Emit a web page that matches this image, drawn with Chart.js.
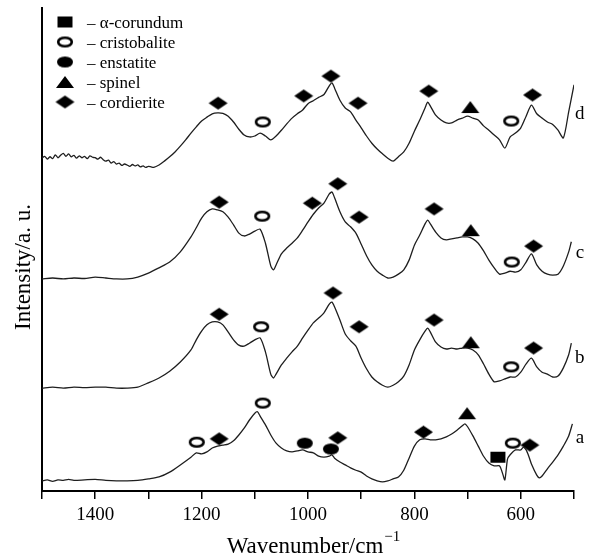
<!DOCTYPE html>
<html>
<head>
<meta charset="utf-8">
<script src="https://cdn.jsdelivr.net/npm/chart.js@4.4.1/dist/chart.umd.min.js"></script>
<style>
    html, body { margin: 0; padding: 0; background: #fff; }
</style>
</head>
<body>
<canvas id="ftirChart" width="592" height="560"></canvas>
<script>
// FTIR spectra, wavenumber in cm-1, intensity in a.u. (curves stacked as plotted)
const wnA = [1500, 1490, 1480, 1470, 1460, 1450, 1440, 1420, 1400, 1380, 1360, 1340, 1320, 1300, 1280, 1260, 1240, 1220, 1210, 1200,
    1190, 1180, 1170, 1160, 1150, 1140, 1130, 1120, 1110, 1100, 1095, 1090, 1080, 1070, 1060, 1050, 1040, 1030, 1020, 1010,
    1000, 990, 980, 970, 960, 955, 950, 940, 930, 920, 910, 900, 890, 880, 870, 860, 850, 840, 830, 820,
    810, 800, 790, 780, 770, 760, 750, 740, 730, 720, 710, 705, 700, 690, 680, 670, 660, 650, 640, 635,
    630, 625, 620, 610, 600, 595, 590, 585, 580, 570, 565, 560, 550, 540, 530, 520, 510, 503];
const intA = [2.1, 2.3, 2.0, 2.3, 2.2, 2.4, 2.2, 2.3, 2.4, 2.2, 2.1, 2.1, 2.2, 2.5, 2.9, 3.9, 5.4, 7.0, 7.9, 7.7,
    8.1, 8.9, 9.3, 9.5, 9.7, 10.4, 11.6, 13.0, 14.7, 16.1, 16.4, 15.5, 13.7, 11.6, 9.9, 8.9, 8.3, 8.1, 8.3, 8.5,
    8.1, 7.9, 7.2, 7.0, 7.2, 7.5, 6.8, 6.0, 5.4, 4.8, 4.3, 3.9, 3.1, 2.5, 2.1, 1.9, 2.1, 2.5, 2.9, 4.3,
    6.8, 9.3, 10.6, 10.8, 10.6, 10.6, 10.8, 11.2, 11.8, 12.6, 13.5, 13.9, 13.3, 11.4, 9.3, 7.2, 5.8, 5.2, 5.2, 3.9,
    2.3, 6.6, 7.5, 8.5, 8.5, 9.1, 8.5, 7.2, 5.6, 3.3, 2.7, 3.1, 4.6, 6.0, 7.5, 9.3, 11.4, 13.9];

const wnBC = [1500, 1480, 1460, 1440, 1420, 1400, 1380, 1360, 1340, 1320, 1300, 1280, 1260, 1240, 1220, 1210, 1200,
    1190, 1180, 1170, 1160, 1150, 1140, 1130, 1120, 1110, 1100, 1090, 1080, 1070, 1065, 1060,
    1050, 1040, 1030, 1020, 1010, 1000, 990, 980, 970, 960, 955, 950,
    940, 930, 920, 910, 900, 890, 880, 870, 860, 850, 840, 830, 820, 810, 800, 790, 780, 775,
    770, 760, 750, 740, 730, 720, 710, 700, 690, 680, 670, 660, 650, 640, 630, 620, 610, 600, 590, 580,
    570, 560, 550, 540, 530, 520, 510, 505];
const intB = [21.3, 21.5, 21.3, 21.5, 21.4, 21.5, 21.5, 21.3, 21.3, 21.5, 22.4, 23.4, 24.8, 26.7, 29.2, 31.3, 33.1,
    34.4, 35.0, 35.0, 34.4, 32.9, 31.3, 30.2, 30.0, 30.6, 31.3, 31.7, 28.8, 24.2, 23.4, 24.2,
    26.1, 27.5, 28.8, 30.0, 31.7, 33.3, 34.8, 35.8, 36.9, 38.7, 39.1, 38.1,
    35.4, 32.5, 31.1, 30.0, 27.5, 25.3, 23.6, 22.6, 21.9, 21.5, 21.9, 22.6, 23.8, 26.1, 29.2, 31.3, 33.1, 33.7,
    32.9, 30.8, 29.8, 29.4, 29.6, 29.4, 29.6, 29.6, 29.2, 28.2, 26.3, 24.2, 22.6, 22.8, 23.2, 23.6, 23.6, 24.6, 26.3, 27.5,
    25.7, 24.6, 24.2, 23.6, 23.8, 25.5, 28.2, 30.6];
const intC = [43.9, 44.1, 43.9, 44.1, 44.0, 44.3, 44.1, 43.9, 43.9, 44.3, 45.1, 46.2, 47.4, 49.5, 52.6, 54.5, 56.5,
    57.8, 58.4, 58.2, 57.8, 56.7, 55.1, 53.4, 52.8, 53.2, 53.8, 54.2, 51.3, 46.6, 45.8, 46.8,
    49.1, 50.3, 51.3, 52.4, 54.0, 55.7, 57.3, 58.6, 59.6, 61.5, 61.9, 60.7,
    57.8, 55.7, 54.7, 53.4, 51.1, 48.7, 46.8, 45.5, 44.7, 44.1, 44.3, 44.9, 45.8, 47.8, 50.9, 53.0, 55.3, 56.1,
    55.3, 53.6, 52.4, 52.0, 52.2, 52.4, 52.6, 52.6, 52.2, 51.3, 49.7, 47.8, 46.2, 44.9, 45.1, 45.5, 45.3, 45.8, 47.4, 49.1,
    46.8, 45.5, 44.9, 44.7, 44.9, 46.6, 49.5, 51.6];

const wnD = [1500, 1495, 1490, 1485, 1480, 1475, 1470, 1465, 1460, 1455, 1450, 1445, 1440, 1435, 1430, 1425, 1420, 1415, 1410, 1405,
    1400, 1395, 1390, 1385, 1380, 1375, 1370, 1365, 1360, 1355, 1350, 1345, 1340, 1335, 1330, 1325, 1320, 1315, 1310, 1305,
    1300, 1295, 1290, 1280, 1270, 1260, 1250, 1240, 1230, 1220, 1210, 1200, 1190, 1180, 1170, 1160, 1150, 1140, 1130, 1120,
    1110, 1100, 1090, 1080, 1070, 1060, 1050, 1040, 1030, 1020, 1010, 1000, 990, 980, 970, 960, 955, 950,
    940, 930, 920, 910, 900, 890, 880, 870, 860, 850, 840, 830, 820, 810, 800, 790, 780, 775,
    770, 760, 750, 740, 730, 720, 710, 700, 690, 680, 670, 660, 650, 640, 630, 620, 610, 600, 590, 580,
    570, 560, 550, 540, 530, 520, 510, 500];
const intD = [68.9, 69.3, 68.7, 69.2, 68.8, 69.6, 69.0, 69.5, 69.9, 69.3, 69.8, 69.2, 69.5, 68.9, 69.4, 69.0, 69.3, 68.8, 69.4, 69.1,
    69.0, 68.7, 69.1, 68.6, 68.3, 68.5, 67.9, 68.2, 67.7, 67.9, 67.4, 67.7, 67.5, 67.2, 67.6, 67.3, 67.5, 67.1, 67.3, 67.0,
    67.2, 67.1, 67.0, 67.5, 68.3, 69.2, 70.2, 71.4, 72.7, 74.1, 75.4, 76.6, 77.4, 78.1, 78.3, 78.2, 77.6, 76.4, 74.9, 73.7,
    73.3, 73.5, 74.1, 73.5, 72.7, 73.5, 74.7, 76.0, 77.2, 78.1, 78.9, 80.2, 80.8, 81.5, 82.1, 83.9, 84.5, 83.4,
    80.9, 79.3, 78.5, 76.8, 75.2, 73.5, 72.0, 70.8, 69.8, 68.9, 68.3, 69.2, 70.2, 72.0, 74.5, 76.8, 79.3, 80.5,
    79.7, 77.8, 76.8, 76.2, 76.2, 76.8, 77.2, 77.6, 77.2, 76.8, 75.6, 74.7, 73.7, 72.7, 71.0, 73.3, 74.1, 75.2, 77.6, 79.9,
    78.1, 77.2, 76.4, 75.9, 74.7, 73.1, 78.5, 84.1];

// phase markers: [wavenumber, intensity]
const corundumPts = [[643, 7.0]];
const cristobalitePts = [[1085, 76.4], [618, 76.6], [1086, 56.9], [617, 47.4], [1088, 34.0], [618, 25.7],
    [1209, 10.1], [1085, 18.2], [615, 9.9]];
const enstatitePts = [[1006, 9.9], [957, 8.7]];
const spinelPts = [[695, 79.5], [694, 54.0], [694, 30.8], [701, 16.1]];
const cordieritePts = [[1169, 80.3], [1008, 81.8], [957, 85.9], [906, 80.3], [773, 82.8], [578, 82.0],
    [1167, 59.8], [992, 59.6], [944, 63.6], [904, 56.7], [763, 58.4], [576, 50.7],
    [1167, 36.6], [953, 41.0], [904, 34.0], [763, 35.4], [576, 29.6],
    [1167, 10.8], [944, 11.0], [783, 12.2], [583, 9.5]];

const curveNames = ['a', 'b', 'c', 'd'];
const labelWn = 489;
const labelInt = [11.0, 27.5, 49.3, 78.1];

const serif = '"Liberation Serif", "Times New Roman", serif';

function makeSymbol(kind, w, h) {
    const c = document.createElement('canvas');
    c.width = w + 4;
    c.height = h + 4;
    const g = c.getContext('2d');
    const cx = c.width / 2, cy = c.height / 2;
    g.fillStyle = '#000';
    g.strokeStyle = '#000';
    g.beginPath();
    if (kind === 'rect') {
        g.rect(cx - w / 2, cy - h / 2, w, h);
        g.fill();
    } else if (kind === 'ring') {
        g.ellipse(cx, cy, w / 2 - 1.2, h / 2 - 1.2, 0, 0, Math.PI * 2);
        g.fillStyle = '#fff';
        g.fill();
        g.lineWidth = 2.6;
        g.stroke();
    } else if (kind === 'dot') {
        g.ellipse(cx, cy, w / 2, h / 2, 0, 0, Math.PI * 2);
        g.fill();
    } else if (kind === 'tri') {
        g.moveTo(cx, cy - h / 2);
        g.lineTo(cx + w / 2, cy + h / 2);
        g.lineTo(cx - w / 2, cy + h / 2);
        g.closePath();
        g.fill();
    } else {
        g.moveTo(cx, cy - h / 2);
        g.lineTo(cx + w / 2, cy);
        g.lineTo(cx, cy + h / 2);
        g.lineTo(cx - w / 2, cy);
        g.closePath();
        g.fill();
    }
    return c;
}

const symbols = {
    rect: makeSymbol('rect', 15, 11),
    ring: makeSymbol('ring', 16, 11),
    dot: makeSymbol('dot', 16, 11),
    tri: makeSymbol('tri', 18, 12),
    diamond: makeSymbol('diamond', 19, 13)
};

const toXY = (wn, val) => wn.map((w, i) => ({x: w, y: val[i]}));
const ptsXY = pts => pts.map(p => ({x: p[0], y: p[1]}));

function curve(label, wn, val) {
    return {
        label: label,
        data: toXY(wn, val),
        showLine: true,
        borderColor: '#1e1e1e',
        borderWidth: 1.3,
        pointRadius: 0,
        tension: 0.25,
        fill: false
    };
}

function marks(label, pts, sym) {
    return {
        label: label,
        data: ptsXY(pts),
        showLine: false,
        pointStyle: symbols[sym],
        pointRadius: 7,
        symbol: sym,
        isPhase: true
    };
}

const overlay = {
    id: 'overlay',
    afterDraw(chart) {
        const {ctx, chartArea, scales: {x, y}} = chart;
        ctx.save();
        ctx.fillStyle = '#000';

        // curve letters
        ctx.font = '19px ' + serif;
        ctx.textAlign = 'center';
        ctx.textBaseline = 'middle';
        curveNames.forEach((n, i) => {
            ctx.fillText(n, x.getPixelForValue(labelWn), y.getPixelForValue(labelInt[i]));
        });

        // legend
        ctx.font = '17px ' + serif;
        ctx.textAlign = 'left';
        ctx.textBaseline = 'alphabetic';
        let row = 22;
        chart.data.datasets.filter(d => d.isPhase).forEach(d => {
            const s = symbols[d.symbol];
            ctx.drawImage(s, 65 - s.width / 2, row - s.height / 2);
            ctx.fillText('\u2013 ' + d.label, 87, row + 6);
            row += 20;
        });

        // x title with superscript
        const main = 'Wavenumber/cm';
        const sup = '\u22121';
        ctx.font = '23px ' + serif;
        const wMain = ctx.measureText(main).width;
        ctx.font = '15px ' + serif;
        const wSup = ctx.measureText(sup).width;
        const x0 = (chartArea.left + chartArea.right) / 2 + 5 - (wMain + wSup) / 2;
        ctx.font = '23px ' + serif;
        ctx.fillText(main, x0, 553);
        ctx.font = '15px ' + serif;
        ctx.fillText(sup, x0 + wMain + 1, 541);

        // y title
        ctx.translate(23.5, 267);
        ctx.rotate(-Math.PI / 2);
        ctx.font = '23px ' + serif;
        ctx.textAlign = 'center';
        ctx.textBaseline = 'middle';
        ctx.fillText('Intensity/a. u.', 0, 0);
        ctx.restore();
    }
};

const ctx = document.getElementById('ftirChart').getContext('2d');
const ftirChart = new Chart(ctx, {
    type: 'scatter',
    data: {
        datasets: [
            curve('a', wnA, intA),
            curve('b', wnBC, intB),
            curve('c', wnBC, intC),
            curve('d', wnD, intD),
            marks('\u03b1-corundum', corundumPts, 'rect'),
            marks('cristobalite', cristobalitePts, 'ring'),
            marks('enstatite', enstatitePts, 'dot'),
            marks('spinel', spinelPts, 'tri'),
            marks('cordierite', cordieritePts, 'diamond')
        ]
    },
    options: {
        responsive: false,
        animation: false,
        events: [],
        layout: {
            padding: {left: 0, right: 18, top: 8, bottom: 0}
        },
        plugins: {
            legend: {display: false},
            tooltip: {enabled: false}
        },
        scales: {
            x: {
                type: 'linear',
                min: 500,
                max: 1500,
                reverse: true,
                ticks: {
                    stepSize: 100,
                    autoSkip: false,
                    maxRotation: 0,
                    padding: 5,
                    color: '#000',
                    font: {family: serif, size: 19},
                    callback: v => (v % 200 === 0 ? v : '')
                },
                grid: {
                    drawOnChartArea: false,
                    drawTicks: true,
                    tickLength: 8,
                    color: '#000',
                    lineWidth: 1.5
                },
                border: {display: true, color: '#000', width: 2},
                afterFit(scale) { scale.height = 69; }
            },
            y: {
                min: 0,
                max: 100,
                ticks: {display: false},
                grid: {display: false},
                border: {display: true, color: '#000', width: 2},
                afterFit(scale) { scale.width = 42; }
            }
        }
    },
    plugins: [overlay]
});
</script>
</body>
</html>
